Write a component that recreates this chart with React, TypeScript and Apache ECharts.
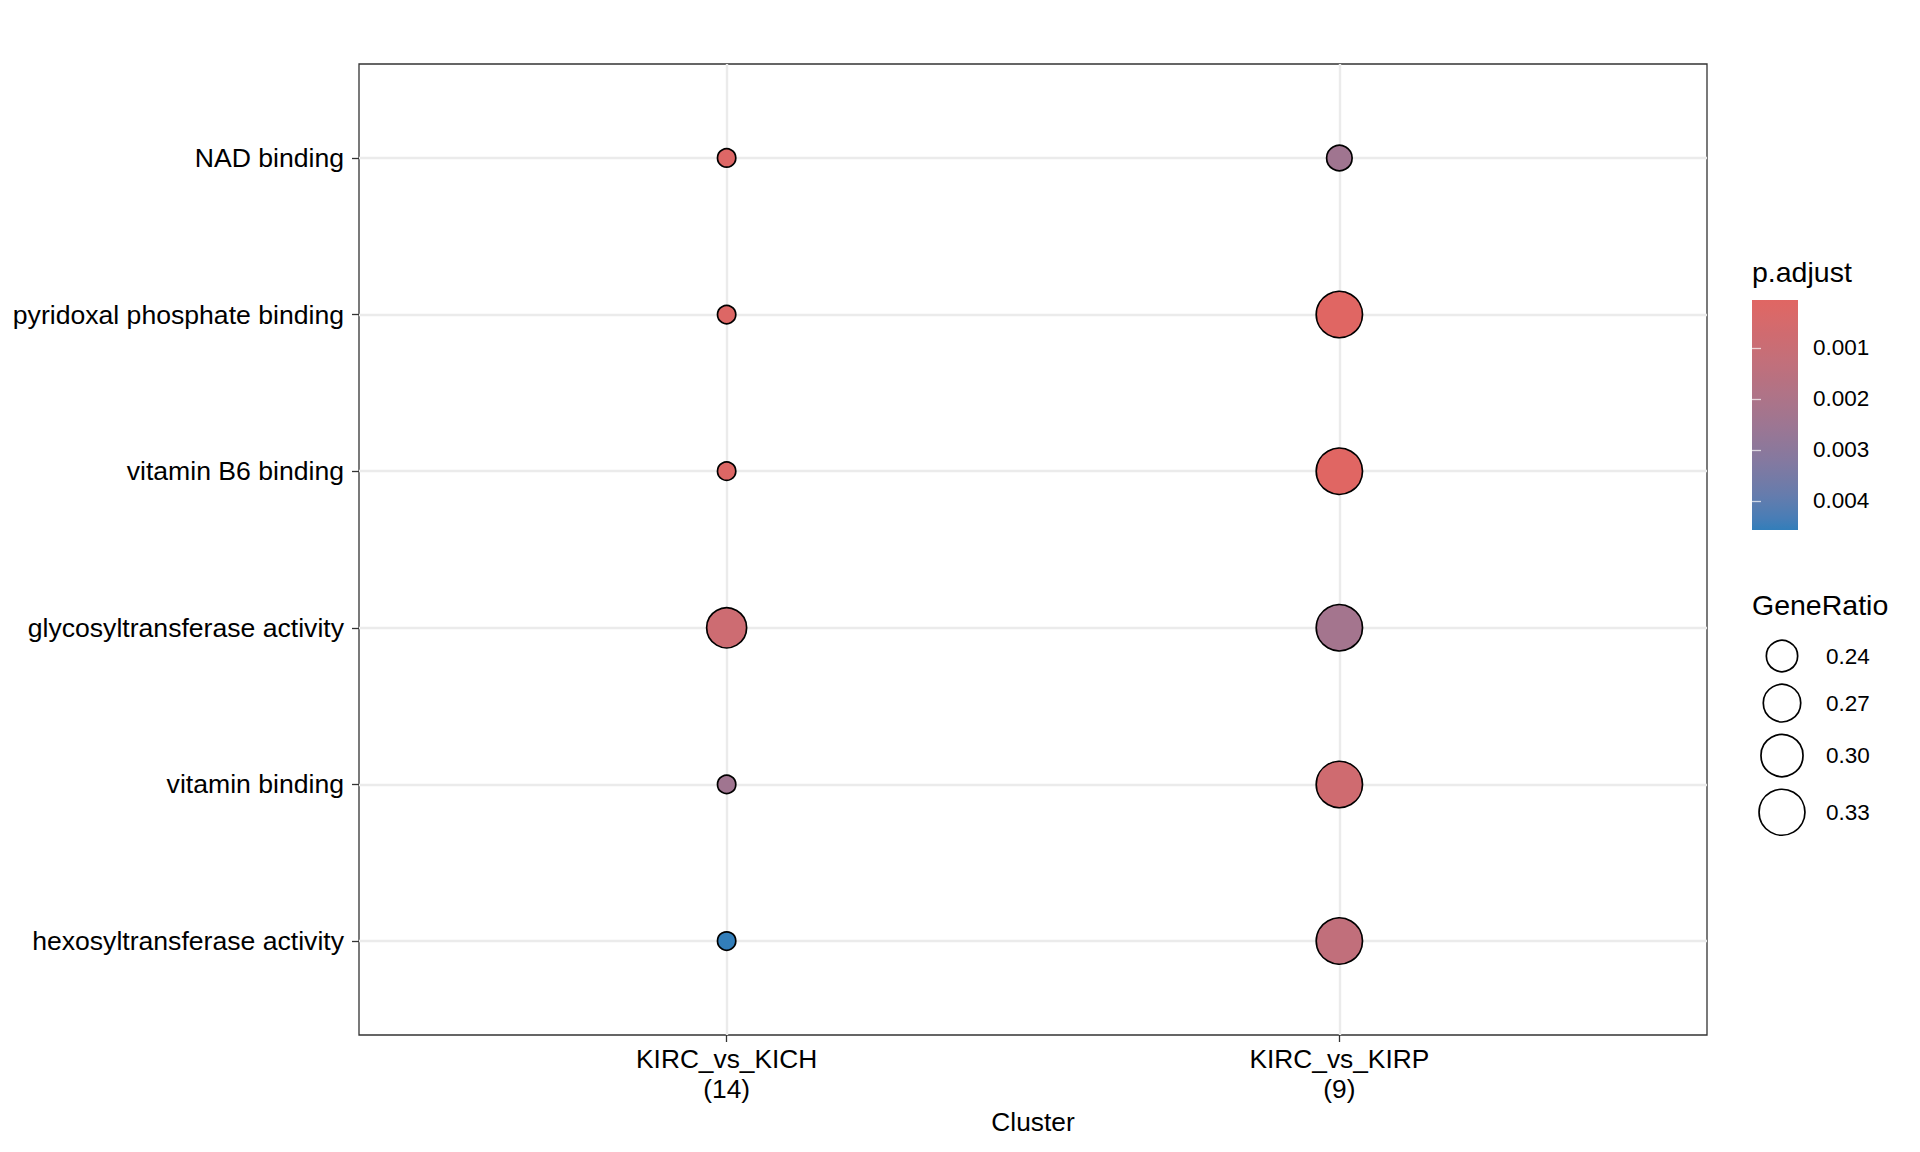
import React, { useEffect, useRef } from "react";
import * as echarts from "echarts";

// ---- data (terms listed bottom -> top) ----
const terms = [
  "hexosyltransferase activity",
  "vitamin binding",
  "glycosyltransferase activity",
  "vitamin B6 binding",
  "pyridoxal phosphate binding",
  "NAD binding",
];
const clusters = ["KIRC_vs_KICH", "KIRC_vs_KIRP"];
const clusterCounts = [14, 9];
const geneRatioKICH = [0.2143, 0.2143, 0.2857, 0.2143, 0.2143, 0.2143];
const geneRatioKIRP = [0.3333, 0.3333, 0.3333, 0.3333, 0.3333, 0.2222];
const pAdjKICH = [0.00457, 0.0024, 0.00085, 0.0002, 0.0002, 0.00022];
const pAdjKIRP = [0.0013, 0.00075, 0.0023, 0.00008, 0.0000625, 0.0024];
const colorTicks = [0.001, 0.002, 0.003, 0.004];
const sizeBreaks = [0.24, 0.27, 0.3, 0.33];
const lowColor = "#e06663";
const highColor = "#327eba";

// ---- Lab colour interpolation (like ggplot's gradient) ----
function hexToRgb(h: string) {
  const n = parseInt(h.slice(1), 16);
  return [(n >> 16) & 255, (n >> 8) & 255, n & 255];
}
const toLin = (c: number) => {
  c /= 255;
  return c <= 0.04045 ? c / 12.92 : Math.pow((c + 0.055) / 1.055, 2.4);
};
const fromLin = (c: number) => {
  const v = c <= 0.0031308 ? 12.92 * c : 1.055 * Math.pow(c, 1 / 2.4) - 0.055;
  return Math.round(Math.max(0, Math.min(1, v)) * 255);
};
const Xn = 0.95047, Yn = 1.0, Zn = 1.08883;
const f = (t: number) => (t > 0.008856 ? Math.cbrt(t) : 7.787 * t + 16 / 116);
const fi = (t: number) => (t > 0.206893 ? t * t * t : (t - 16 / 116) / 7.787);
function rgbToLab(rgb: number[]) {
  const [r, g, b] = rgb.map(toLin);
  const X = 0.4124 * r + 0.3576 * g + 0.1805 * b;
  const Y = 0.2126 * r + 0.7152 * g + 0.0722 * b;
  const Z = 0.0193 * r + 0.1192 * g + 0.9505 * b;
  const fx = f(X / Xn), fy = f(Y / Yn), fz = f(Z / Zn);
  return [116 * fy - 16, 500 * (fx - fy), 200 * (fy - fz)];
}
function labToHex(lab: number[]) {
  const [L, a, bb] = lab;
  const fy = (L + 16) / 116, fx = fy + a / 500, fz = fy - bb / 200;
  const X = Xn * fi(fx), Y = Yn * fi(fy), Z = Zn * fi(fz);
  const r = 3.2406 * X - 1.5372 * Y - 0.4986 * Z;
  const g = -0.9689 * X + 1.8758 * Y + 0.0415 * Z;
  const b = 0.0557 * X - 0.204 * Y + 1.057 * Z;
  const hex = (v: number) => fromLin(v).toString(16).padStart(2, "0");
  return "#" + hex(r) + hex(g) + hex(b);
}
function labRamp(c1: string, c2: string, n: number) {
  const a = rgbToLab(hexToRgb(c1));
  const b = rgbToLab(hexToRgb(c2));
  const out: string[] = [];
  for (let i = 0; i <= n; i++) {
    const t = i / n;
    out.push(labToHex([0, 1, 2].map((k) => a[k] + (b[k] - a[k]) * t)));
  }
  return out;
}

const FONT = "Liberation Sans";

export default function App() {
  const ref = useRef<HTMLDivElement>(null);
  useEffect(() => {
    if (!ref.current) return;
    const chart = echarts.init(ref.current, undefined, { renderer: "svg" });

    const allP = [...pAdjKICH, ...pAdjKIRP];
    const allG = [...geneRatioKICH, ...geneRatioKIRP];
    const pMin = Math.min(...allP), pMax = Math.max(...allP);
    const gMin = Math.min(...allG), gMax = Math.max(...allG);
    const stroke = 1.7;
    const diam = (g: number) =>
      20 + 28 * Math.sqrt(Math.max(0, (g - gMin) / (gMax - gMin)));

    const ramp = labRamp(lowColor, highColor, 20);
    const gradient = new echarts.graphic.LinearGradient(
      0, 0, 0, 1,
      ramp.map((c, i) => ({ offset: i / (ramp.length - 1), color: c }))
    );

    const data: number[][] = [];
    const ratios = [geneRatioKICH, geneRatioKIRP];
    const pvals = [pAdjKICH, pAdjKIRP];
    clusters.forEach((_, ci) =>
      terms.forEach((_, ti) =>
        data.push([ci + 1, ti + 1, pvals[ci][ti], ratios[ci][ti]])
      )
    );

    const xVals = clusters.map((_, i) => i + 1);
    const yVals = terms.map((_, i) => i + 1);

    // size legend layout
    const legendGraphics: any[] = [];
    let top = 634;
    sizeBreaks.forEach((b) => {
      const d = diam(b);
      const h = d + 11;
      const cy = top + h / 2;
      top += h;
      legendGraphics.push({
        type: "circle",
        shape: { cx: 1782, cy, r: (d - stroke) / 2 },
        style: { fill: "#ffffff", stroke: "#000000", lineWidth: stroke },
      });
      legendGraphics.push({
        type: "text",
        x: 1826,
        y: cy,
        style: {
          text: b.toFixed(2),
          fontSize: 22.5,
          fontFamily: FONT,
          fill: "#000",
          verticalAlign: "middle",
          align: "left",
        },
      });
    });

    const cbAxis = (pos: "left" | "right", labels: boolean) => ({
      gridIndex: 1,
      type: "value",
      min: pMin,
      max: pMax,
      inverse: true,
      position: pos,
      axisLine: { show: false },
      axisTick: {
        show: true,
        inside: true,
        length: 9,
        lineStyle: { color: "rgba(255,255,255,0.7)", width: 1.3 },
        customValues: colorTicks,
      },
      axisLabel: {
        show: labels,
        customValues: colorTicks,
        formatter: (v: number) => v.toFixed(3),
        margin: 15,
        fontSize: 22.5,
        fontFamily: FONT,
        color: "#000",
      },
      splitLine: { show: false },
    });

    chart.setOption({
      animation: false,
      backgroundColor: "#ffffff",
      textStyle: { fontFamily: FONT },
      grid: [
        {
          left: 359,
          top: 64,
          width: 1348,
          height: 971,
          show: true,
          borderColor: "#333333",
          borderWidth: 1.3,
          backgroundColor: "transparent",
        },
        {
          left: 1752,
          top: 300,
          width: 46,
          height: 230,
          show: true,
          borderWidth: 0,
          backgroundColor: gradient,
        },
      ],
      xAxis: [
        {
          gridIndex: 0,
          type: "value",
          min: 0.4,
          max: 2.6,
          name: "Cluster",
          nameLocation: "middle",
          nameGap: 74,
          nameTextStyle: { fontSize: 26.3, color: "#000", fontFamily: FONT },
          axisLine: { show: false },
          axisTick: {
            show: true,
            length: 7,
            lineStyle: { color: "#333333", width: 1.3 },
            customValues: xVals,
          },
          axisLabel: {
            customValues: xVals,
            formatter: (v: number) => {
              const i = Math.round(v) - 1;
              return clusters[i] + "\n(" + clusterCounts[i] + ")";
            },
            fontSize: 26.3,
            lineHeight: 30,
            margin: 9,
            color: "#000",
            fontFamily: FONT,
          },
          splitLine: { show: true, lineStyle: { color: "#ebebeb", width: 2.4 } },
        },
        { gridIndex: 1, type: "value", min: 0, max: 1, show: false },
      ],
      yAxis: [
        {
          gridIndex: 0,
          type: "value",
          min: 0.4,
          max: 6.6,
          axisLine: { show: false },
          axisTick: {
            show: true,
            length: 7,
            lineStyle: { color: "#333333", width: 1.3 },
            customValues: yVals,
          },
          axisLabel: {
            customValues: yVals,
            formatter: (v: number) => terms[Math.round(v) - 1],
            fontSize: 26.6,
            margin: 15,
            color: "#000",
            fontFamily: FONT,
          },
          splitLine: { show: true, lineStyle: { color: "#ebebeb", width: 2.4 } },
        },
        cbAxis("right", true),
        cbAxis("left", false),
      ],
      visualMap: {
        type: "continuous",
        show: false,
        seriesIndex: 0,
        dimension: 2,
        min: pMin,
        max: pMax,
        inRange: { color: ramp },
      },
      series: [
        {
          type: "scatter",
          xAxisIndex: 0,
          yAxisIndex: 0,
          data,
          symbol: "circle",
          symbolSize: (v: number[]) => diam(v[3]) - stroke,
          itemStyle: { borderColor: "#000000", borderWidth: stroke, opacity: 1 },
          z: 5,
        },
      ],
      graphic: [
        {
          type: "text",
          x: 1752,
          y: 272,
          style: {
            text: "p.adjust",
            fontSize: 28.5,
            fontFamily: FONT,
            fill: "#000",
            verticalAlign: "middle",
          },
        },
        {
          type: "text",
          x: 1752,
          y: 605,
          style: {
            text: "GeneRatio",
            fontSize: 28.5,
            fontFamily: FONT,
            fill: "#000",
            verticalAlign: "middle",
          },
        },
        ...legendGraphics,
      ],
    });
    return () => chart.dispose();
  }, []);
  return (
    <div
      ref={ref}
      style={{ position: "absolute", left: 0, top: 0, width: 1920, height: 1152 }}
    />
  );
}
